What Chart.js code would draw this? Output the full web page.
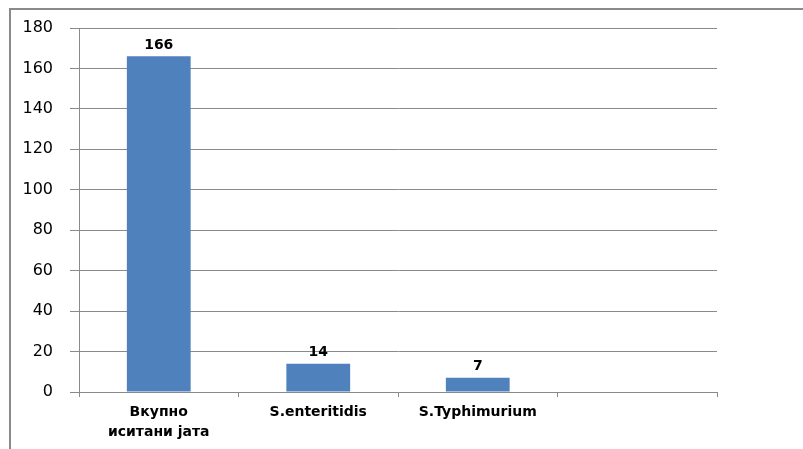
<!DOCTYPE html>
<html>
<head>
<meta charset="utf-8">
<script src="https://cdn.jsdelivr.net/npm/chart.js@4"></script>
<style>
  html, body { margin: 0; padding: 0; background: #fff; overflow: hidden; }
  #frame { position: absolute; left: 9px; top: 8px; width: 900px; height: 500px; border: 2px solid #8a8a8a; }
  #wrap { position: absolute; left: 0; top: 0; width: 803px; height: 449px; }
</style>
</head>
<body>
<div id="frame"></div>
<div id="wrap"><canvas id="salmonella-chart"></canvas></div>
<script>
var categories = [["Вкупно", "иситани јата"], "S.enteritidis", "S.Typhimurium", ""];
var counts = [166, 14, 7, null];
var yTicks = [0, 20, 40, 60, 80, 100, 120, 140, 160, 180];

var valueLabels = {
    id: 'valueLabels',
    afterDatasetsDraw: function(chart){
        var ctx = chart.ctx;
        var meta = chart.getDatasetMeta(0);
        ctx.save();
        ctx.font = 'bold 14px "DejaVu Sans"';
        ctx.fillStyle = '#000';
        ctx.textAlign = 'center';
        ctx.textBaseline = 'bottom';
        meta.data.forEach(function(bar, i){
            if (counts[i] === null) return;
            ctx.fillText(counts[i], bar.x, bar.y - 4);
        });
        ctx.restore();
    }
};

var myBarChart = new Chart(document.getElementById("salmonella-chart"), {
    type: 'bar',
    data: {
        labels: categories,
        datasets: [{
            data: counts,
            backgroundColor: "#4f81bd",
            borderWidth: 0,
            categoryPercentage: 1,
            barPercentage: 0.4
        }]
    },
    options: {
        responsive: true,
        maintainAspectRatio: false,
        animation: false,
        layout: { padding: { top: 28, right: 86, left: 0, bottom: 0 } },
        plugins: {
            legend: { display: false },
            tooltip: { enabled: false }
        },
        scales: {
            x: {
                grid: { offset: true, drawOnChartArea: false, drawTicks: true, tickLength: 5, color: '#8a8a8a' },
                border: { display: true, color: '#8a8a8a' },
                ticks: {
                    color: '#000',
                    padding: 5,
                    maxRotation: 0,
                    autoSkip: false,
                    font: { family: '"DejaVu Sans"', size: 14, weight: 'bold', lineHeight: 1.45 }
                },
                afterFit: function(axis){ axis.height = 57; }
            },
            y: {
                min: 0,
                max: 180,
                afterBuildTicks: function(axis){
                    axis.ticks = yTicks.map(function(v){ return { value: v }; });
                },
                grid: { color: '#8a8a8a', tickLength: 9, lineWidth: 1 },
                border: { display: true, color: '#8a8a8a' },
                ticks: {
                    color: '#000',
                    padding: 17,
                    font: { family: '"DejaVu Sans"', size: 16 }
                },
                afterFit: function(axis){ axis.width = 79; }
            }
        }
    },
    plugins: [valueLabels]
});
</script>
</body>
</html>
